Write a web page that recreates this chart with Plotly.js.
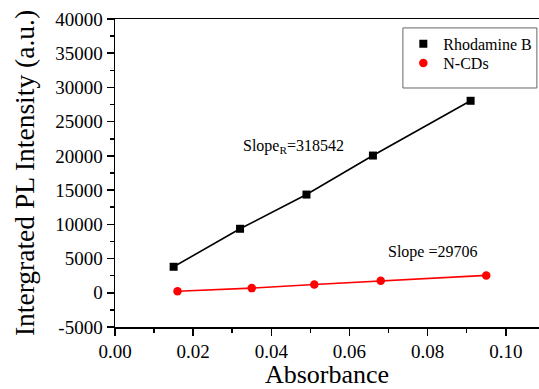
<!DOCTYPE html>
<html>
<head>
<meta charset="utf-8">
<script src="https://cdn.plot.ly/plotly-3.0.1.min.js"></script>
<style>html,body{margin:0;padding:0;background:#fff;}#chart{width:539px;height:389px;}</style>
</head>
<body>
<div id="chart"></div>
<script>
// Data
const rhodamineAbs = [0.015, 0.032, 0.049, 0.066, 0.091];
const rhodamineInt = [3800, 9350, 14350, 20050, 28050];
const ncdAbs = [0.016, 0.035, 0.051, 0.068, 0.095];
const ncdInt = [220, 680, 1220, 1760, 2540];
const seriesNames = ['Rhodamine B', 'N-CDs'];
const slopeLabels = ['Slope<sub>R</sub>=318542', 'Slope =29706'];
const xTickVals = [0, 0.02, 0.04, 0.06, 0.08, 0.10];
const xTickText = ['0.00', '0.02', '0.04', '0.06', '0.08', '0.10'];
const yTickVals = [-5000, 0, 5000, 10000, 15000, 20000, 25000, 30000, 35000, 40000];
const yTickText = ['-5000', '0', '5000', '10000', '15000', '20000', '25000', '30000', '35000', '40000'];

const fam = 'Liberation Serif';

const traces = [
  {x: rhodamineAbs, y: rhodamineInt, name: seriesNames[0], mode: 'lines', showlegend: false,
   line: {color: '#000', width: 1.6}},
  {x: ncdAbs, y: ncdInt, name: seriesNames[1], mode: 'lines', showlegend: false,
   line: {color: '#ff0000', width: 1.6}},
  {x: rhodamineAbs, y: rhodamineInt, name: seriesNames[0], mode: 'markers', legend: 'legend',
   marker: {symbol: 'square', size: 8, color: '#000'}},
  {x: ncdAbs, y: ncdInt, name: seriesNames[1], mode: 'markers', legend: 'legend2',
   marker: {symbol: 'circle', size: 8.5, color: '#ff0000'}}
];

const legendCommon = {xanchor: 'left', yanchor: 'middle', borderwidth: 0,
  bgcolor: 'rgba(0,0,0,0)', font: {family: fam, size: 16, color: '#000'}, itemwidth: 30};

const layout = {
  width: 539, height: 389,
  margin: {l: 115, r: 0, t: 19, b: 62},
  paper_bgcolor: '#fff', plot_bgcolor: '#fff',
  font: {family: fam, color: '#000'},
  showlegend: true,
  legend: Object.assign({x: 0.680, y: 0.919}, legendCommon),
  legend2: Object.assign({x: 0.680, y: 0.857}, legendCommon),
  shapes: [
    {type: 'rect', xref: 'paper', yref: 'paper', x0: 0.679, x1: 0.995, y0: 0.776, y1: 0.971,
     line: {color: '#666', width: 1}, fillcolor: 'rgba(0,0,0,0)', layer: 'below'}
  ],
  xaxis: {range: [0, 0.1085], tickvals: xTickVals, ticktext: xTickText,
    showgrid: false, zeroline: false, showline: true, linecolor: '#000', linewidth: 1.5,
    mirror: true, ticks: 'outside', ticklen: 7, tickwidth: 1.5, tickcolor: '#000',
    minor: {dtick: 0.01, ticks: 'outside', ticklen: 4, tickwidth: 1.5, tickcolor: '#000', showgrid: false},
    tickfont: {family: fam, size: 19, color: '#000'},
    title: {text: 'Absorbance', font: {family: fam, size: 26, color: '#000'}, standoff: 6}},
  yaxis: {range: [-5000, 40000], tickvals: yTickVals, ticktext: yTickText,
    showgrid: false, zeroline: false, showline: true, linecolor: '#000', linewidth: 1.5,
    ticks: 'outside', ticklen: 7, tickwidth: 1.5, tickcolor: '#000',
    minor: {dtick: 2500, ticks: 'outside', ticklen: 4, tickwidth: 1.5, tickcolor: '#000', showgrid: false},
    tickfont: {family: fam, size: 19, color: '#000'},
    title: {text: 'Intergrated PL Intensity (a.u.)', font: {family: fam, size: 27.5, color: '#000'}, standoff: 12}},
  annotations: [
    {x: 0.0458, y: 21300, xref: 'x', yref: 'y', text: slopeLabels[0], showarrow: false,
     font: {family: fam, size: 16, color: '#000'}},
    {x: 0.0813, y: 5950, xref: 'x', yref: 'y', text: slopeLabels[1], showarrow: false,
     font: {family: fam, size: 16, color: '#000'}}
  ]
};

Plotly.newPlot('chart', traces, layout, {displayModeBar: false, staticPlot: true});
</script>
</body>
</html>
